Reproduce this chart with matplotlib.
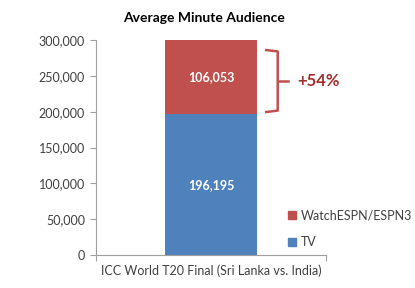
import matplotlib
matplotlib.use("Agg")
import matplotlib.pyplot as plt
from matplotlib.patches import Patch

plt.rcParams['font.family'] = ['Lato', 'DejaVu Sans']

categories = ["ICC World T20 Final (Sri Lanka vs. India)"]
tv = [196195]
online = [106053]
series_names = ["TV", "WatchESPN/ESPN3"]
yticks = [0, 50000, 100000, 150000, 200000, 250000, 300000]
increase_label = "+54%"

RED = "#C0504D"
BLUE = "#4F81BD"
TXT = "#404040"

fig = plt.figure(figsize=(4.15, 2.88), dpi=100)
W, H = 415, 288
ax = fig.add_axes([96/W, 1-255/H, (326-96)/W, (255-40)/H])

x = list(range(len(categories)))
b1 = ax.bar(x, tv, width=0.4, color=BLUE, label=series_names[0])
b2 = ax.bar(x, online, bottom=tv, width=0.4, color=RED, label=series_names[1])

ax.set_xlim(-0.5, 0.5)
ax.set_ylim(0, 300000)
ax.set_yticks(yticks)
ax.set_yticklabels([f"{v:,}" for v in yticks], fontsize=9, color=TXT)
ax.tick_params(axis='y', length=4, color="#A0A0A0", pad=4)

ax.set_xticks([-0.5, 0.5])
ax.set_xticklabels(["", ""])
ax.tick_params(axis='x', length=4, color="#A0A0A0")
ax.set_xticks(x, minor=True)
ax.set_xticklabels(categories, minor=True, fontsize=9, color=TXT)
ax.tick_params(axis='x', which='minor', length=0, pad=7)

for s in ['top', 'right']:
    ax.spines[s].set_visible(False)
ax.spines['left'].set_color("#A0A0A0")
ax.spines['bottom'].set_color("#A0A0A0")

for i in x:
    ax.text(i, tv[i] / 2, f"{tv[i]:,}", ha='center', va='center', color='white',
            fontsize=9, fontweight='bold')
    ymid = tv[i] + online[i] / 2
    ax.text(i, min(ymid, (tv[i] + 300000) / 2), f"{online[i]:,}", ha='center', va='center',
            color='white', fontsize=9, fontweight='bold')

# bracket
y0, y1 = 199500, 286000
xb0, xb1, xb2 = 0.24, 0.29, 0.335
ym = (y0 + y1) / 2
ax.plot([xb0, xb1, xb1, xb0], [y1, y1 - 2000, y0 + 2000, y0], color=RED, lw=1.8,
        clip_on=False, solid_joinstyle='round')
ax.plot([xb1, xb2], [ym, ym], color=RED, lw=1.8, clip_on=False)
ax.text(0.375, ym, increase_label, ha='left', va='center', color="#A0302D",
        fontsize=12, fontweight='bold', clip_on=False)

handles = [Patch(color=RED, label=series_names[1]), Patch(color=BLUE, label=series_names[0])]
fig.legend(handles=handles, loc='upper left', bbox_to_anchor=(282/W, 1-203/H),
           frameon=False, fontsize=9, handlelength=0.6, handleheight=0.6,
           handletextpad=0.4, labelspacing=1.2, labelcolor=TXT, borderpad=0)

fig.text(204/W, 1-18/H, "Average Minute Audience", ha='center', va='center',
         fontsize=10, fontweight='bold', color='black')

fig.savefig("out.png", dpi=100, facecolor='white')
